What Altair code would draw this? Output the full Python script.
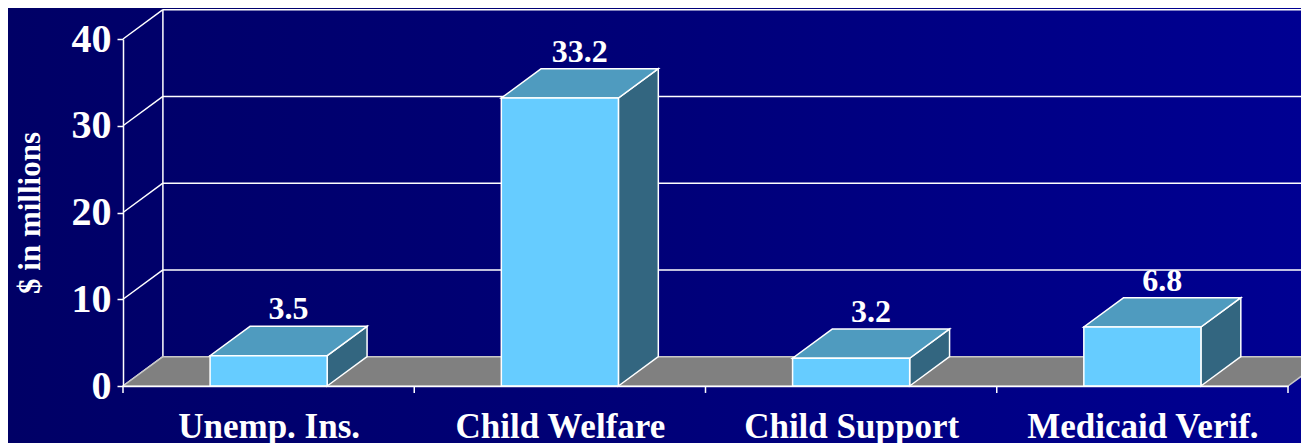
import json
import altair as alt
import pandas as pd

# ---------------- data ----------------
categories = ["Unemp. Ins.", "Child Welfare", "Child Support", "Medicaid Verif."]
values = [3.5, 33.2, 3.2, 6.8]
value_labels = ["3.5", "33.2", "3.2", "6.8"]
y_ticks = [0, 10, 20, 30, 40]
y_title = "$ in millions"

# ---------------- geometry / style constants ----------------
Y_MAX = 40
N = len(categories)
DX = 0.137      # 3-D depth offset, in category units
DY = 3.38       # 3-D depth offset, in $ millions
BAR_W = 0.402   # bar width, in category units
X_END = 4.25    # back-wall gridlines run off the right edge
FONT = "Liberation Serif"

C_FRONT = "#66CCFF"
C_TOP = "#4F9BBF"
C_SIDE = "#336680"
C_FLOOR = "#808080"

centers = [i + 0.5 for i in range(N)]

# ---------------- tables ----------------
front = pd.DataFrame({
    "cat": categories,
    "x": [c - BAR_W / 2 for c in centers],
    "x2": [c + BAR_W / 2 for c in centers],
    "y": [0.0] * N,
    "y2": values,
})

top_rows = []
side_rows = []
for cat, c, v in zip(categories, centers, values):
    top_rows.append({"cat": cat, "y": v, "x": c - BAR_W / 2, "x2": c + BAR_W / 2})
    top_rows.append({"cat": cat, "y": v + DY, "x": c - BAR_W / 2 + DX, "x2": c + BAR_W / 2 + DX})
    side_rows.append({"cat": cat, "x": c + BAR_W / 2, "y": 0.0, "y2": v})
    side_rows.append({"cat": cat, "x": c + BAR_W / 2 + DX, "y": DY, "y2": v + DY})
top = pd.DataFrame(top_rows)
side = pd.DataFrame(side_rows)

floor = pd.DataFrame({"y": [0.0, DY], "x": [0.0, DX], "x2": [float(N), N + DX]})

wall_rows = []
for t in y_ticks:
    # slanted side-wall line
    wall_rows.append({"x": 0.0, "x2": DX, "y": t, "y2": t + DY})
    # back-wall gridline
    if t > 0:
        wall_rows.append({"x": DX, "x2": X_END, "y": t + DY, "y2": t + DY})
wall_rows.append({"x": DX, "x2": DX, "y": DY, "y2": Y_MAX + DY})
walls = pd.DataFrame(wall_rows)

labels = pd.DataFrame({
    "x": [c + DX / 2 for c in centers],
    "y": [v + DY for v in values],
    "label": value_labels,
})

xticks = pd.DataFrame({"x": [float(i) for i in range(N + 1)], "y": [0.0] * (N + 1), "y2": [-0.8] * (N + 1)})

# ---------------- encodings ----------------
x_scale = alt.Scale(domain=[0, N], nice=False, zero=False)
y_scale = alt.Scale(domain=[0, Y_MAX], nice=False, zero=False)

label_expr = json.dumps(categories) + "[floor(datum.value)]"

x_axis = alt.Axis(
    values=centers, labelExpr=label_expr, title=None, grid=False,
    ticks=False, tickSize=0, domain=True, domainColor="#FFFFFF", domainWidth=1.5,
    labelFont=FONT, labelFontWeight="bold", labelFontSize=35, labelColor="#FFFFFF",
    labelBaseline="alphabetic", labelPadding=51, labelFlush=False, labelOverlap=False,
    labelLimit=600, zindex=1,
)
y_axis = alt.Axis(
    values=y_ticks, title=y_title, grid=False,
    ticks=True, tickSize=6, tickColor="#FFFFFF", tickWidth=1.5,
    domain=True, domainColor="#FFFFFF", domainWidth=1.5,
    labelFont=FONT, labelFontWeight="bold", labelFontSize=40, labelColor="#FFFFFF",
    labelPadding=6, labelFlush=False, labelOverlap=False, labelLimit=600,
    titleFont=FONT, titleFontWeight="bold", titleFontSize=31, titleColor="#FFFFFF",
    titlePadding=25, zindex=1,
)


def X(field="x"):
    return alt.X(f"{field}:Q", scale=x_scale, axis=x_axis)


def Y(field="y"):
    return alt.Y(f"{field}:Q", scale=y_scale, axis=y_axis)


# ---------------- layers ----------------
gradient = alt.Gradient(
    gradient="linear",
    stops=[alt.GradientStop(color="#000066", offset=0),
           alt.GradientStop(color="#000078", offset=0.5),
           alt.GradientStop(color="#000092", offset=1)],
    x1=0, x2=1, y1=0, y2=0,
)
bg = alt.Chart(pd.DataFrame({"k": [0]})).mark_rect(color=gradient, strokeWidth=0).encode(
    x=alt.value(-115), x2=alt.value(1178), y=alt.value(-31), y2=alt.value(404)
)

wall_layer = alt.Chart(walls).mark_rule(color="#FFFFFF", strokeWidth=1.5).encode(
    x=X(), x2="x2:Q", y=Y(), y2="y2:Q"
)

floor_layer = alt.Chart(floor).mark_area(
    orient="horizontal", color=C_FLOOR, stroke="#C8C8C8", strokeWidth=1.5, opacity=1
).encode(x=X(), x2="x2:Q", y=Y())

side_layer = alt.Chart(side).mark_area(
    orient="vertical", color=C_SIDE, stroke="#FFFFFF", strokeWidth=1.5, opacity=1
).encode(x=X(), y=Y(), y2="y2:Q", detail="cat:N")

top_layer = alt.Chart(top).mark_area(
    orient="horizontal", color=C_TOP, stroke="#FFFFFF", strokeWidth=1.5, opacity=1
).encode(x=X(), x2="x2:Q", y=Y(), detail="cat:N")

front_layer = alt.Chart(front).mark_rect(
    color=C_FRONT, stroke="#FFFFFF", strokeWidth=1.5
).encode(x=X(), x2="x2:Q", y=Y(), y2="y2:Q")

label_layer = alt.Chart(labels).mark_text(
    font=FONT, fontWeight="bold", fontSize=32, color="#FFFFFF",
    align="center", baseline="alphabetic", dy=-7
).encode(x=X(), y=Y(), text="label:N")

tick_layer = alt.Chart(xticks).mark_rule(color="#FFFFFF", strokeWidth=1.5).encode(
    x=X(), y=Y(), y2="y2:Q"
)

chart = alt.layer(
    bg, wall_layer, floor_layer, side_layer, top_layer, front_layer, label_layer, tick_layer
).properties(
    width=1165,
    height=347,
    autosize=alt.AutoSizeParams(type="none"),
    padding={"left": 115, "top": 31, "right": 13, "bottom": 57},
).configure(
    background="#000066"
).configure_view(stroke=None)

chart.save("out.html", embed_options={"renderer": "svg", "actions": False})
